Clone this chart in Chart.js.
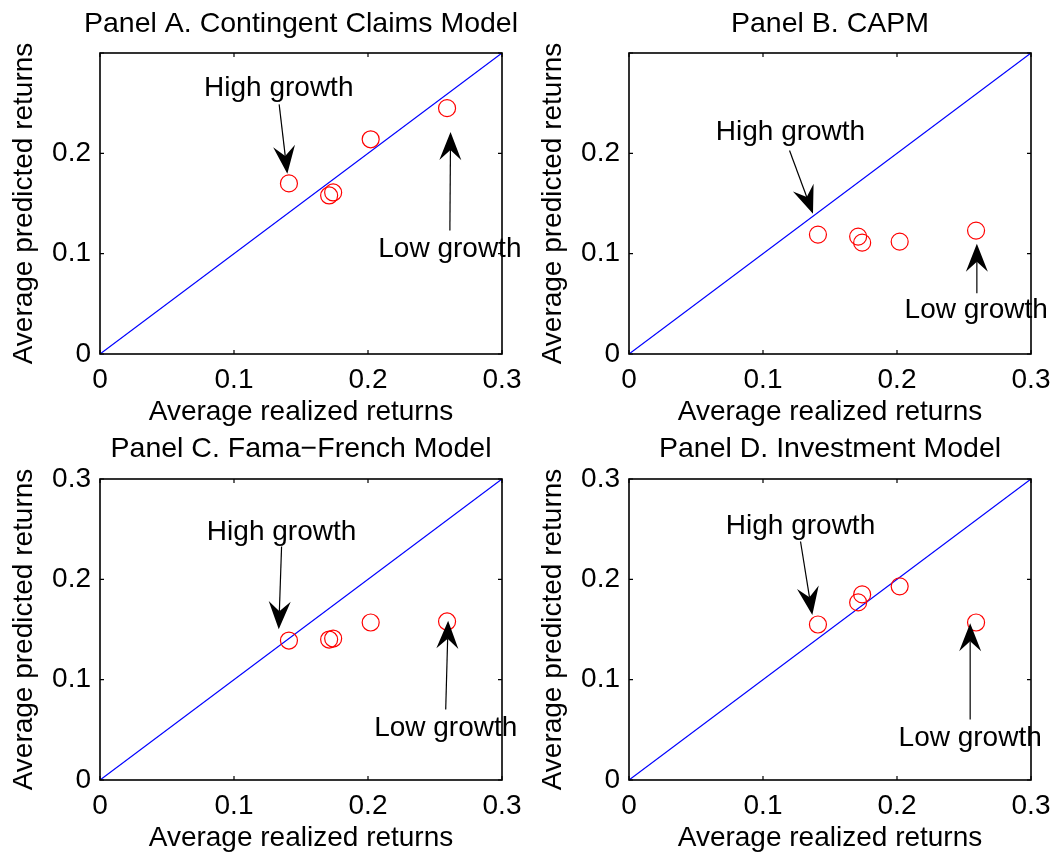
<!DOCTYPE html>
<html><head><meta charset="utf-8">
<script src="https://cdn.jsdelivr.net/npm/chart.js@4.4.1/dist/chart.umd.min.js"></script>
<style>
html,body{margin:0;padding:0;background:#fff;}
#wrap{position:relative;width:1054px;height:856px;overflow:hidden;background:#fff;}
canvas{position:absolute;}
</style></head><body><div id="wrap">
<canvas id="cA" width="527" height="428" style="left:0px;top:0px"></canvas>
<canvas id="cB" width="527" height="428" style="left:527px;top:0px"></canvas>
<canvas id="cC" width="527" height="428" style="left:0px;top:428px"></canvas>
<canvas id="cD" width="527" height="428" style="left:527px;top:428px"></canvas>
</div>
<script>
// ---- data ----
const realized = [0.141, 0.171, 0.174, 0.202, 0.259];
const predA = [0.170, 0.158, 0.161, 0.214, 0.245];
const predB = [0.119, 0.117, 0.111, 0.112, 0.123];
const predC = [0.139, 0.140, 0.141, 0.157, 0.158];
const predD = [0.155, 0.177, 0.185, 0.193, 0.157];
const diagonal = [0, 0.3];
const tickValues = [0, 0.1, 0.2, 0.3];
const titles = ['Panel A. Contingent Claims Model', 'Panel B. CAPM', 'Panel C. Fama\u2212French Model', 'Panel D. Investment Model'];
const xLabel = 'Average realized returns';
const yLabel = 'Average predicted returns';
// annotations in data units: [tailX, tailY, tipX, tipY]
const arrowsA = [[0.1337, 0.2488, 0.1398, 0.1796], [0.2611, 0.1231, 0.2616, 0.2212]];
const arrowsB = [[0.1198, 0.2029, 0.1373, 0.1397], [0.2596, 0.0605, 0.2596, 0.1098]];
const arrowsC = [[0.1355, 0.2327, 0.1334, 0.1502], [0.2580, 0.0703, 0.2598, 0.1588]];
const arrowsD = [[0.1280, 0.2377, 0.1368, 0.1645], [0.2546, 0.0603, 0.2546, 0.1562]];
// [text, x, y]
const labelsA = [['High growth', 0.1334, 0.2644], ['Low growth', 0.2611, 0.1048]];
const labelsB = [['High growth', 0.1205, 0.2205], ['Low growth', 0.2591, 0.0439]];
const labelsC = [['High growth', 0.1355, 0.2467], ['Low growth', 0.2580, 0.0519]];
const labelsD = [['High growth', 0.1280, 0.2527], ['Low growth', 0.2546, 0.0413]];

// ---- layout (page pixels) ----
const FONT = "'Liberation Sans', Arial, Helvetica, sans-serif";
const CW = 527, CH = 428;
const FS = 28, TFS = 28.5;
const panels = [
  {id:'cA', cx:0,   cy:0,   L:100, R:502,  T:53,  B:354, tb:32,  pred:predA, hideTop:true,  arrows:arrowsA, labels:labelsA},
  {id:'cB', cx:527, cy:0,   L:629, R:1031, T:53,  B:354, tb:32,  pred:predB, hideTop:true,  arrows:arrowsB, labels:labelsB},
  {id:'cC', cx:0,   cy:428, L:100, R:502,  T:479, B:780, tb:457, pred:predC, hideTop:false, arrows:arrowsC, labels:labelsC},
  {id:'cD', cx:527, cy:428, L:629, R:1031, T:479, B:780, tb:457, pred:predD, hideTop:false, arrows:arrowsD, labels:labelsD}
];

function drawArrow(ctx, x0, y0, x1, y1) {
  const ang = Math.atan2(y1 - y0, x1 - x0);
  const len = Math.hypot(x1 - x0, y1 - y0);
  const HL = 28, HW = 11, NB = 18;
  ctx.save();
  ctx.translate(x1, y1);
  ctx.rotate(ang);
  ctx.beginPath();
  ctx.moveTo(-len, 0); ctx.lineTo(-NB, 0);
  ctx.lineWidth = 1.2; ctx.strokeStyle = '#000'; ctx.stroke();
  ctx.beginPath();
  ctx.moveTo(0, 0); ctx.lineTo(-HL, -HW); ctx.lineTo(-NB, 0); ctx.lineTo(-HL, HW); ctx.closePath();
  ctx.fillStyle = '#000'; ctx.fill();
  ctx.restore();
}

const overlay = {
  id: 'overlay',
  afterDatasetsDraw(chart, args, opts) {
    const ctx = chart.ctx, a = chart.chartArea;
    const xs = chart.scales.x, ys = chart.scales.y;
    ctx.save();
    ctx.strokeStyle = '#000';
    ctx.lineWidth = 1.2;
    ctx.beginPath();
    xs.ticks.forEach(t => {
      const p = xs.getPixelForValue(t.value);
      ctx.moveTo(p, a.bottom); ctx.lineTo(p, a.bottom - 4);
      ctx.moveTo(p, a.top); ctx.lineTo(p, a.top + 4);
    });
    ys.ticks.forEach(t => {
      const p = ys.getPixelForValue(t.value);
      ctx.moveTo(a.left, p); ctx.lineTo(a.left + 4, p);
      ctx.moveTo(a.right, p); ctx.lineTo(a.right - 4, p);
    });
    ctx.stroke();
    ctx.lineWidth = 1.6;
    ctx.strokeRect(a.left, a.top, a.right - a.left, a.bottom - a.top);
    (opts.arrows || []).forEach(ar => {
      drawArrow(ctx, xs.getPixelForValue(ar[0]), ys.getPixelForValue(ar[1]),
                     xs.getPixelForValue(ar[2]), ys.getPixelForValue(ar[3]));
    });
    ctx.fillStyle = '#000';
    ctx.font = FS + 'px ' + FONT;
    ctx.textAlign = 'center';
    ctx.textBaseline = 'middle';
    (opts.labels || []).forEach(lb => {
      ctx.fillText(lb[0], xs.getPixelForValue(lb[1]), ys.getPixelForValue(lb[2]));
    });
    // panel title, centred over the plot area
    ctx.font = TFS + 'px ' + FONT;
    ctx.textBaseline = 'alphabetic';
    ctx.fillText(opts.title, (a.left + a.right) / 2, opts.titleBase);
    ctx.restore();
  }
};

panels.forEach((p, i) => {
  const Ll = p.L - p.cx, Rl = p.R - p.cx, Tl = p.T - p.cy, Bl = p.B - p.cy;
  const xTitleMid = (p.B + 67.5 - p.cy) - 9.7;
  const xTitlePadBottom = CH - xTitleMid - 14;
  const yTitlePadTop = Ll - 66 - 9.7 - 14;
  const fnt = {family: FONT, size: FS, weight: 'normal', lineHeight: 1};
  new Chart(document.getElementById(p.id), {
    type: 'scatter',
    data: {
      datasets: [
        {
          data: realized.map((x, k) => ({x: x, y: p.pred[k]})),
          showLine: false,
          pointStyle: 'circle',
          pointRadius: 8.5,
          pointBorderWidth: 1.2,
          pointBorderColor: '#ff0000',
          pointBackgroundColor: 'rgba(0,0,0,0)',
          borderColor: '#ff0000',
          backgroundColor: 'rgba(0,0,0,0)'
        },
        {
          data: diagonal.map(v => ({x: v, y: v})),
          showLine: true,
          borderColor: '#0000ff',
          borderWidth: 1.2,
          pointRadius: 0,
          fill: false
        }
      ]
    },
    options: {
      responsive: false,
      animation: false,
      events: [],
      layout: {padding: {left: 0, top: Tl, right: CW - Rl, bottom: 0}},
      plugins: {
        legend: {display: false},
        tooltip: {enabled: false},
        title: {display: false},
        overlay: {arrows: p.arrows, labels: p.labels, title: titles[i], titleBase: p.tb - p.cy}
      },
      scales: {
        x: {
          type: 'linear', position: 'bottom', min: 0, max: 0.3,
          afterBuildTicks: s => { s.ticks = tickValues.map(v => ({value: v})); },
          ticks: {color: '#000', font: fnt, padding: 12.5, maxRotation: 0, autoSkip: false,
                  callback: v => String(Math.round(v * 10) / 10)},
          grid: {display: false, drawTicks: false},
          border: {display: false},
          title: {display: true, text: xLabel, color: '#000', font: fnt, padding: {top: 0, bottom: xTitlePadBottom}},
          afterFit: s => { s.height = CH - Bl; s.paddingLeft = 0; s.paddingRight = 0; }
        },
        y: {
          type: 'linear', position: 'left', min: 0, max: 0.3,
          afterBuildTicks: s => { s.ticks = tickValues.map(v => ({value: v})); },
          ticks: {color: '#000', font: fnt, padding: 9, autoSkip: false,
                  callback: v => (p.hideTop && v > 0.29) ? '' : String(Math.round(v * 10) / 10)},
          grid: {display: false, drawTicks: false},
          border: {display: false},
          title: {display: true, text: yLabel, color: '#000', font: fnt, padding: {top: yTitlePadTop, bottom: 0}},
          afterFit: s => { s.width = Ll; s.paddingTop = 0; s.paddingBottom = 0; }
        }
      }
    },
    plugins: [overlay]
  });
});
</script>
</body></html>
